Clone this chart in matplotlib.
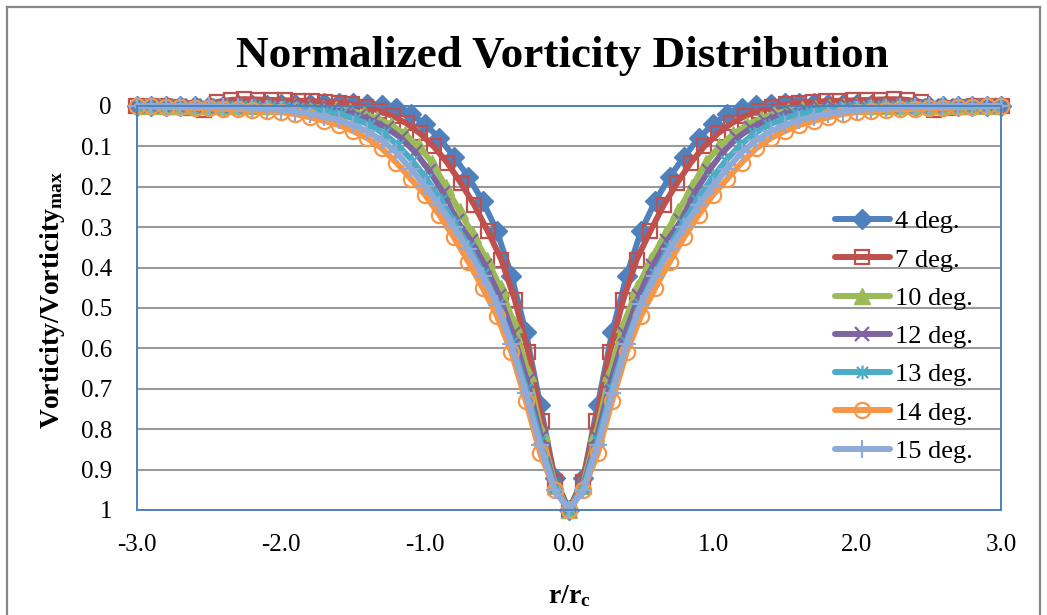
import numpy as np
import matplotlib
matplotlib.use("Agg")
import matplotlib.pyplot as plt
from matplotlib.path import Path
from matplotlib.lines import Line2D

# ---------------- data (half profiles, r/rc >= 0, mirrored about r=0) ----------------
series_names = ["4 deg.", "7 deg.", "10 deg.", "12 deg.", "13 deg.", "14 deg.", "15 deg."]
steps = [0.100, 0.094, 0.095, 0.097, 0.099, 0.100, 0.100]   # r/rc spacing of samples

deg4 = [1.0, 0.92, 0.74, 0.56, 0.42, 0.31, 0.235, 0.175, 0.125, 0.08, 0.045, 0.02, 0.005,
        -0.003, -0.006, -0.008, -0.008, -0.007, -0.006, -0.005, -0.004, -0.003, -0.002,
        -0.002, -0.001, 0.0, 0.0, 0.0, 0.0, 0.0, 0.0]
deg7 = [1.0, 0.93, 0.78, 0.61, 0.48, 0.38, 0.31, 0.245, 0.19, 0.14, 0.10, 0.068, 0.043,
        0.025, 0.012, 0.003, -0.004, -0.008, -0.01, -0.012, -0.013, -0.014, -0.015, -0.016,
        -0.017, -0.015, -0.01, 0.01, 0.006, 0.003, 0.0, 0.0, 0.0]
deg10 = [1.0, 0.94, 0.81, 0.66, 0.54, 0.45, 0.38, 0.32, 0.26, 0.20, 0.14, 0.10, 0.07,
         0.047, 0.031, 0.02, 0.012, 0.007, 0.004, 0.002, 0.001, 0.0, 0.0, 0.0, 0.0, 0.0,
         0.0, 0.0, 0.0, 0.0, 0.0, 0.0]
deg12 = [1.0, 0.945, 0.82, 0.68, 0.565, 0.47, 0.395, 0.335, 0.285, 0.215, 0.16, 0.115,
         0.08, 0.055, 0.037, 0.024, 0.015, 0.009, 0.005, 0.003, 0.001, 0.0, 0.0, 0.0, 0.0,
         0.0, 0.0, 0.0, 0.0, 0.0, 0.0]
deg13 = [1.0, 0.945, 0.83, 0.70, 0.585, 0.49, 0.415, 0.35, 0.29, 0.232, 0.18, 0.135,
         0.097, 0.068, 0.047, 0.032, 0.021, 0.014, 0.009, 0.005, 0.003, 0.001, 0.0, 0.0,
         0.0, 0.0, 0.0, 0.0, 0.0, 0.0, 0.0]
deg14 = [1.0, 0.95, 0.86, 0.73, 0.61, 0.52, 0.45, 0.385, 0.325, 0.27, 0.22, 0.18, 0.14,
         0.105, 0.08, 0.062, 0.047, 0.037, 0.028, 0.02, 0.015, 0.012, 0.01, 0.008, 0.007,
         0.006, 0.005, 0.003, 0.002, 0.001, 0.0]
deg15 = [1.0, 0.95, 0.84, 0.71, 0.59, 0.49, 0.42, 0.355, 0.30, 0.245, 0.198, 0.155,
         0.115, 0.085, 0.063, 0.047, 0.035, 0.026, 0.019, 0.014, 0.01, 0.007, 0.005, 0.003,
         0.002, 0.001, 0.0, 0.0, 0.0, 0.0, 0.0]
profiles = [deg4, deg7, deg10, deg12, deg13, deg14, deg15]

x_ticks = [-3.0, -2.0, -1.0, 0.0, 1.0, 2.0, 3.0]
y_ticks = [0, 0.1, 0.2, 0.3, 0.4, 0.5, 0.6, 0.7, 0.8, 0.9, 1]
y_tick_labels = ["0", "0.1", "0.2", "0.3", "0.4", "0.5", "0.6", "0.7", "0.8", "0.9", "1"]

# ---------------- style ----------------
FONT = "Liberation Serif"
plt.rcParams["font.family"] = [FONT, "DejaVu Serif"]
plt.rcParams["mathtext.fontset"] = "custom"
plt.rcParams["mathtext.rm"] = FONT
plt.rcParams["mathtext.bf"] = FONT + ":bold"
plt.rcParams["mathtext.it"] = FONT + ":italic"

colors = ["#4F81BD", "#C0504D", "#9BBB59", "#8064A2", "#4BACC6", "#F79646", "#8EAAD8"]

# Excel-like asterisk: x plus vertical bar
star_path = Path(
    [(-1, -1), (1, 1), (-1, 1), (1, -1), (0, -1.25), (0, 1.25)],
    [Path.MOVETO, Path.LINETO, Path.MOVETO, Path.LINETO, Path.MOVETO, Path.LINETO],
)
markers = [
    dict(marker="D", ms=10, mfc=colors[0], mec=colors[0], mew=1.0),
    dict(marker="s", ms=10, mfc="none", mec=colors[1], mew=1.6),
    dict(marker="^", ms=11, mfc=colors[2], mec=colors[2], mew=1.0),
    dict(marker="x", ms=10, mfc="none", mec=colors[3], mew=1.6),
    dict(marker=star_path, ms=10, mfc="none", mec=colors[4], mew=1.6),
    dict(marker="o", ms=11, mfc="none", mec=colors[5], mew=1.6),
    dict(marker="+", ms=13, mfc="none", mec=colors[6], mew=1.6),
]

W, H = 1047, 615
fig = plt.figure(figsize=(W / 100, H / 100), dpi=100)
fig.patch.set_facecolor("white")

# chart border
for xs, ys in [([7, 7], [7, H + 5]), ([7, 1040], [7, 7]), ([1040, 1040], [7, H + 5])]:
    fig.add_artist(Line2D([x / W for x in xs], [1 - y / H for y in ys],
                          transform=fig.transFigure, color="#878787", lw=1.6))

L, R, T, B = 137, 1001, 106, 510
ax = fig.add_axes([L / W, 1 - B / H, (R - L) / W, (B - T) / H])

for name, step, prof, col, mk in zip(series_names, steps, profiles, colors, markers):
    half = np.array(prof)
    n = len(half) - 1
    x = step * np.arange(-n, n + 1)
    y = np.concatenate([half[::-1], half[1:]])
    ax.plot(x, y, color=col, lw=4.3, solid_joinstyle="round", solid_capstyle="round",
            label=name, clip_on=False, **mk)

ax.set_xlim(-3, 3)
ax.set_ylim(1, 0)
ax.set_xticks(x_ticks)
ax.set_xticklabels([f"{v:.1f}" for v in x_ticks])
ax.set_yticks(y_ticks)
ax.set_yticklabels(y_tick_labels)
ax.tick_params(axis="both", length=0, labelsize=18, colors="black")
ax.tick_params(axis="y", pad=18)
ax.tick_params(axis="x", pad=17)

ax.grid(axis="y", color="#9A9A9A", lw=1.5)
ax.set_axisbelow(True)
for s in ax.spines.values():
    s.set_color("#4F81BD")
    s.set_linewidth(1.4)

ax.set_xlabel(r"r/r$_{\mathbf{c}}$", fontsize=20, fontweight="bold", va="center")
ax.xaxis.set_label_coords(0.5, -0.213)
ax.set_ylabel(r"Vorticity/Vorticity$_{\mathbf{max}}$", fontsize=20, fontweight="bold", va="center")
ax.yaxis.set_label_coords(-0.098, 0.52)

fig.text(562 / W, 1 - 56 / H, "Normalized Vorticity Distribution", fontsize=32.5,
         fontweight="bold", ha="center", va="center")

leg = ax.legend(loc="upper left", bbox_to_anchor=(835 / W, 1 - 210 / H),
                bbox_transform=fig.transFigure, frameon=False, fontsize=19,
                handlelength=2.08, handletextpad=0.2, labelspacing=0.56,
                borderpad=0, borderaxespad=0)

fig.savefig("out.png", dpi=100, facecolor="white")
